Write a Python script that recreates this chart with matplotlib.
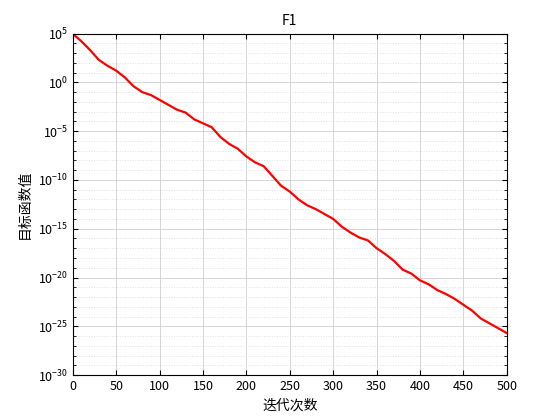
import numpy as np
import matplotlib.pyplot as plt
from matplotlib.ticker import LogLocator, NullFormatter

plt.rcParams['font.family'] = ['Noto Sans CJK SC', 'DejaVu Sans']

# iteration checkpoints and log10 of best fitness
iters = [1, 10, 20, 30, 40, 50, 60, 70, 80, 90, 100, 110, 120, 130, 140, 150, 160,
         170, 180, 190, 200, 210, 220, 230, 240, 250, 260, 270, 280, 290, 300,
         310, 320, 330, 340, 350, 360, 370, 380, 390, 400, 410, 420, 430, 440,
         450, 460, 470, 480, 490, 500]
log_fit = [4.9, 4.2, 3.3, 2.3, 1.7, 1.2, 0.5, -0.4, -1.0, -1.3, -1.8, -2.3, -2.8,
           -3.1, -3.8, -4.2, -4.6, -5.6, -6.3, -6.8, -7.6, -8.2, -8.6, -9.6, -10.6,
           -11.2, -12.0, -12.6, -13.0, -13.5, -14.0, -14.8, -15.4, -15.9, -16.2,
           -17.0, -17.6, -18.3, -19.2, -19.6, -20.3, -20.7, -21.3, -21.7, -22.2,
           -22.8, -23.4, -24.2, -24.7, -25.2, -25.7]

fig, ax = plt.subplots(figsize=(5.6, 4.2), dpi=100)
fig.subplots_adjust(left=0.13, right=0.905, top=0.92, bottom=0.107)
ax.semilogy(iters, 10.0 ** np.array(log_fit), color='red', linewidth=1.6)
ax.set_xlim(0, 500)
ax.set_ylim(1e-30, 1e5)
ax.set_xticks(range(0, 501, 50))
ax.set_yticks([10.0 ** k for k in range(-30, 6, 5)])
ax.yaxis.set_minor_locator(LogLocator(base=10, subs=[1.0], numticks=100))
ax.yaxis.set_minor_formatter(NullFormatter())
ax.grid(True, which='major', color='#d0d0d0', linewidth=0.6)
ax.grid(True, which='minor', axis='y', color='#e0e0e0', linestyle=':', linewidth=0.7)
ax.tick_params(which='both', direction='in', top=True, right=True, labelsize=9)
ax.set_title('F1', fontsize=10)
ax.set_xlabel('迭代次数', fontsize=10)
ax.set_ylabel('目标函数值', fontsize=10)
fig.savefig('out.png')
